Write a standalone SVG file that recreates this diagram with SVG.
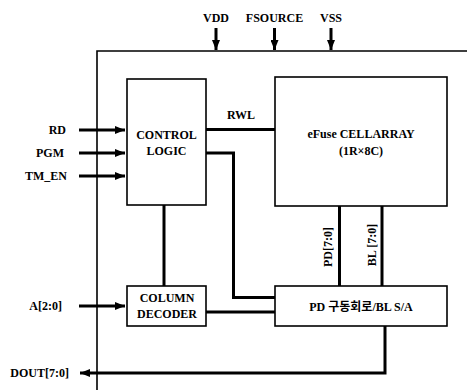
<svg xmlns="http://www.w3.org/2000/svg" width="467" height="390" viewBox="0 0 467 390">
<style>
.box{fill:#fff;stroke:#000;stroke-width:1.6}
.w{fill:none;stroke:#000;stroke-width:3}
.t{font-family:"Liberation Serif","Times New Roman",serif;font-weight:bold;font-size:12px;fill:#000}
.k{font-family:"Liberation Serif","Noto Sans CJK KR",serif;font-weight:bold;font-size:12px;fill:#000}
.m{text-anchor:middle}
.e{text-anchor:end}
</style>
<defs>
<marker id="ah" viewBox="0 0 10 8" refX="10" refY="4" markerWidth="10" markerHeight="8" markerUnits="userSpaceOnUse" orient="auto">
<path d="M0,0 L10,4 L0,8 Z" fill="#000"/>
</marker>
</defs>
<rect width="467" height="390" fill="#fff"/>
<g id="outer">
<path d="M97,392 V51 H470" fill="none" stroke="#000" stroke-width="1.6"/>
</g>
<g id="control-logic">
<rect class="box" x="127" y="79" width="79" height="126"/>
<text class="t m" x="166.5" y="139">CONTROL</text>
<text class="t m" x="166.5" y="155">LOGIC</text>
</g>
<g id="cell-array">
<rect class="box" x="275" y="77" width="172" height="129"/>
<text class="t m" x="361" y="138">eFuse CELLARRAY</text>
<text class="t m" x="361" y="155">(1R×8C)</text>
</g>
<g id="column-decoder">
<rect class="box" x="127" y="286" width="79" height="40"/>
<text class="t m" x="167" y="302">COLUMN</text>
<text class="t m" x="167" y="318">DECODER</text>
</g>
<g id="pd-driver">
<rect class="box" x="275" y="286" width="172" height="40"/>
<text class="k m" x="361" y="311">PD 구동회로/BL S/A</text>
</g>
<g id="connectors">
<line class="w" x1="216" y1="28" x2="216" y2="50" marker-end="url(#ah)"/>
<line class="w" x1="274.5" y1="28" x2="274.5" y2="50" marker-end="url(#ah)"/>
<line class="w" x1="331" y1="28" x2="331" y2="50" marker-end="url(#ah)"/>
<line class="w" x1="79" y1="130" x2="125" y2="130" marker-end="url(#ah)"/>
<line class="w" x1="79" y1="153" x2="125" y2="153" marker-end="url(#ah)"/>
<line class="w" x1="79" y1="176" x2="125" y2="176" marker-end="url(#ah)"/>
<line class="w" x1="79" y1="306" x2="125" y2="306" marker-end="url(#ah)"/>
<line class="w" x1="206" y1="129.5" x2="275" y2="129.5"/>
<polyline class="w" points="206,153 233.5,153 233.5,297.5 275,297.5"/>
<line class="w" x1="164" y1="205" x2="164" y2="286"/>
<line class="w" x1="206" y1="312" x2="275" y2="312"/>
<line class="w" x1="339.5" y1="206" x2="339.5" y2="286"/>
<line class="w" x1="382" y1="206" x2="382" y2="286"/>
<polyline class="w" points="385,326 385,373 80,373" marker-end="url(#ah)"/>
</g>
<g id="labels">
<text class="t m" x="216" y="22">VDD</text>
<text class="t m" x="274.5" y="22">FSOURCE</text>
<text class="t m" x="331" y="22">VSS</text>
<text class="t e" x="66" y="134">RD</text>
<text class="t e" x="64" y="157">PGM</text>
<text class="t e" x="67" y="180">TM_EN</text>
<text class="t e" x="62" y="310">A[2:0]</text>
<text class="t e" x="69" y="377">DOUT[7:0]</text>
<text class="t m" x="241" y="119">RWL</text>
<text class="t m" transform="translate(332,247) rotate(-90)">PD[7:0]</text>
<text class="t m" transform="translate(376,245) rotate(-90)">BL [7:0]</text>
</g>
</svg>
